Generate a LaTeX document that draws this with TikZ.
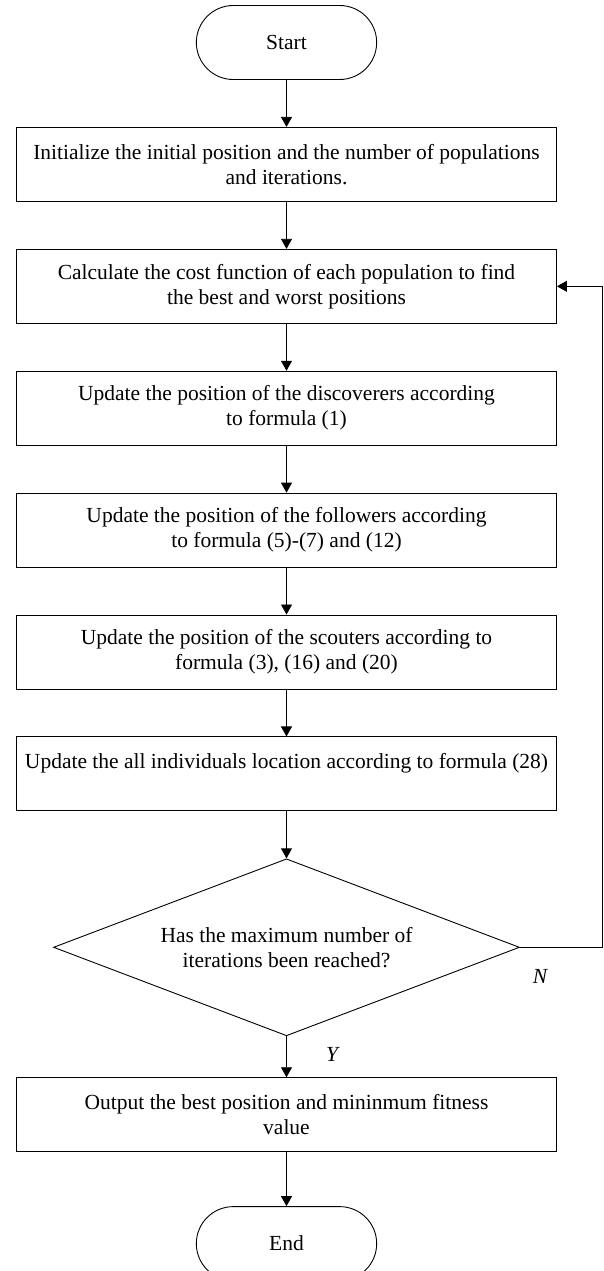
\documentclass[tikz,border=0pt]{standalone}
\usepackage{fontspec}
\setmainfont{Liberation Serif}
\usepackage{tikz}
\usetikzlibrary{shapes.geometric,shapes.misc,arrows.meta,positioning}

\begin{document}
\begin{tikzpicture}[
    node distance=47pt,
    >={Triangle[length=10pt,width=11pt]},
    every node/.style={font=\fontsize{21.5}{25}\selectfont},
    stepbox/.style={rectangle, draw, line width=0.9pt, minimum width=540pt, minimum height=74pt, align=center, inner sep=0pt},
    term/.style={rounded rectangle, draw, line width=0.9pt, minimum width=187pt, minimum height=74pt},
    decide/.style={diamond, draw, line width=0.9pt, minimum width=466pt, minimum height=177pt, aspect=2.63, align=center, inner sep=0pt}
]
\useasboundingbox (0,0) rectangle (603pt,-1271pt);

\node[term] (start) at (286.5pt,-42.5pt) {Start};
\node[stepbox] (init) [below=of start] {Initialize the initial position and the number of populations\\and iterations.};
\node[stepbox] (cost) [below=of init] {Calculate the cost function of each population to find\\the best and worst positions};
\node[stepbox] (disc) [below=of cost] {Update the position of the discoverers according\\to formula (1)};
\node[stepbox] (foll) [below=of disc] {Update the position of the followers according\\to formula (5)-(7) and (12)};
\node[stepbox] (scout) [below=of foll] {Update the position of the scouters according to\\formula (3), (16) and (20)};
\node[stepbox] (all) [below=of scout] {Update the all individuals location according to formula (28)\\~};
\node[decide] (check) [below=of all] {Has the maximum number of\\iterations been reached?};
\node[stepbox] (out) [below=41pt of check] {Output the best position and mininmum fitness\\value};
\node[term] (end) [below=54pt of out] {End};

\draw[->, line width=0.8pt] (start) -- (init);
\draw[->, line width=0.8pt] (init) -- (cost);
\draw[->, line width=0.8pt] (cost) -- (disc);
\draw[->, line width=0.8pt] (disc) -- (foll);
\draw[->, line width=0.8pt] (foll) -- (scout);
\draw[->, line width=0.8pt] (scout) -- (all);
\draw[->, line width=0.8pt] (all) -- (check);
\draw[->, line width=0.8pt] (check) -- node[pos=0.45, right=36pt] {\textit{Y}} (out);
\draw[->, line width=0.8pt] (out) -- (end);
\draw[->, line width=0.8pt] (check.east) -- ++(82pt,0) node[pos=0.25, below=18pt] {\textit{N}} |- (cost.east);
\end{tikzpicture}
\end{document}
